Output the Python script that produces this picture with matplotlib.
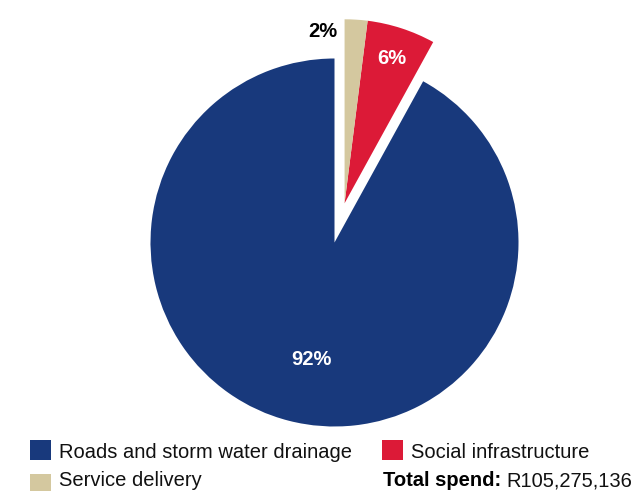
import numpy as np
import matplotlib
matplotlib.use("Agg")
import matplotlib.pyplot as plt
from matplotlib.patches import Rectangle

plt.rcParams['font.family'] = ['Liberation Sans', 'DejaVu Sans']

# data
categories = ["Roads and storm water drainage", "Social infrastructure", "Service delivery"]
shares = [92, 6, 2]
colors = ["#18397c", "#dc1a37", "#d4c89f"]
total_label = "R105,275,136"

W, H = 640, 491
fig = plt.figure(figsize=(W / 100, H / 100), dpi=100)
ax = fig.add_axes([0, 0, 1, 1])

cx, cy, r = 334.5, H - 242.5, 184
wedges, _ = ax.pie(shares, colors=colors, startangle=90, counterclock=True,
                   center=(cx, cy), radius=r, wedgeprops=dict(linewidth=0))

# pull the two small slices out together, along the middle of the pair
t1 = wedges[1].theta1
t2 = wedges[2].theta2
mid = np.deg2rad((t1 + t2) / 2)
off = 0.22 * r
gx, gy = cx + off * np.cos(mid), cy + off * np.sin(mid)
for w in wedges[1:]:
    w.set_center((gx, gy))

ax.set_xlim(0, W)
ax.set_ylim(0, H)
ax.set_aspect('equal')
ax.axis('off')


def label_pos(w, frac):
    a = np.deg2rad((w.theta1 + w.theta2) / 2)
    x0, y0 = w.center
    return x0 + frac * r * np.cos(a), y0 + frac * r * np.sin(a)


x, y = label_pos(wedges[0], 0.655)
ax.text(x + 7, y, f"{shares[0]}%", color="white", fontsize=14.5, fontweight="bold",
        ha="center", va="center")
x, y = label_pos(wedges[1], 0.83)
ax.text(x, y, f"{shares[1]}%", color="white", fontsize=14.5, fontweight="bold",
        ha="center", va="center")
ax.text(gx - 0.04 * r, gy + 0.935 * r, f"{shares[2]}%", color="black", fontsize=14.5,
        fontweight="bold", ha="right", va="center")

# legend, drawn by hand
fs = 14.5
legend_rows = [(30, 460, 0), (382, 460, 1), (30, 494, 2)]
for lx, ly, i in legend_rows:
    ax.add_patch(Rectangle((lx, H - ly), 21, 20, facecolor=colors[i], edgecolor="none"))
    base = min(ly - 2, 486.5)
    ax.text(lx + 29, H - base, categories[i], fontsize=fs, color="#111111", va="baseline")

t = ax.text(383, H - 486.5, "Total spend:", fontsize=fs, fontweight="bold",
            color="black", va="baseline")
fig.canvas.draw()
bb = t.get_window_extent(renderer=fig.canvas.get_renderer())
ax.text(bb.x1 + 5, H - 486.5, total_label, fontsize=fs, color="#111111", va="baseline")

fig.savefig("out.png", dpi=100)
